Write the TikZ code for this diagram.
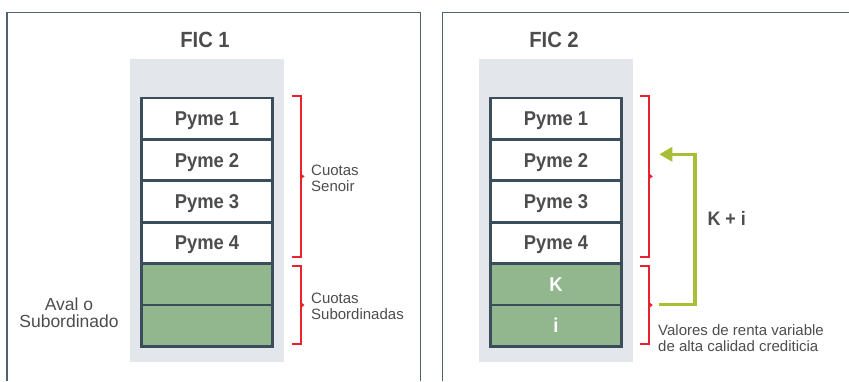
\documentclass[tikz,border=0pt]{standalone}
\usepackage{fontspec}
\setmainfont{Liberation Sans}
\newfontfamily\titlefont[FakeStretch=0.92]{Liberation Sans}
\usetikzlibrary{arrows.meta}

\definecolor{framecol}{HTML}{4E6272}
\definecolor{panelbg}{HTML}{E3E6EA}
\definecolor{rowline}{HTML}{3B4D5A}
\definecolor{subgreen}{HTML}{92B78E}
\definecolor{bracketred}{HTML}{E8232B}
\definecolor{flowgreen}{HTML}{A6BF35}
\definecolor{ink}{HTML}{4D4D4D}

\tikzset{
  panelframe/.style={draw=framecol, line width=1.2pt},
  stackbg/.style={fill=panelbg, minimum width=153.7pt, minimum height=303pt, inner sep=0pt},
  row/.style={draw=rowline, fill=white, line width=2.7pt, minimum width=131.3pt,
              minimum height=41.4pt, inner sep=0pt, text=ink,
              text height=14pt, text depth=0pt,
              font=\titlefont\fontsize{20}{22}\selectfont\bfseries},
  subrow/.style={row, fill=subgreen, text=white},
  title/.style={text=ink, font=\titlefont\fontsize{22}{24}\selectfont\bfseries, inner sep=0pt},
  note/.style={text=ink, align=left, inner sep=0pt, font=\fontsize{15}{15.5}\selectfont},
  bracket/.style={draw=bracketred, line width=2pt},
  nub/.style={fill=bracketred},
  flow/.style={draw=flowgreen, line width=3.5pt, -{Triangle[length=13pt,width=14pt]}},
}

% Brace-like red bracket with a small pointer in the middle
\newcommand{\redbracket}[3]{% x, top y, bottom y
  \draw[bracket] ({#1-8.7},#2) -- (#1,#2) -- (#1,#3) -- ({#1-8.7},#3);
  \fill[nub] (#1,{(#2+#3)/2-3}) -- ({#1+3.8},{(#2+#3)/2}) -- (#1,{(#2+#3)/2+3}) -- cycle;
}

\begin{document}
\begin{tikzpicture}[x=1pt,y=-1pt]
\useasboundingbox (0,0) rectangle (849,381);

% panel frames (open at the bottom / right)
\draw[panelframe] (7,381) -- (7,12.7) -- (420.7,12.7) -- (420.7,381);
\draw[panelframe] (442.7,381) -- (442.7,12.7) -- (849,12.7);

% ---------- FIC 1 ----------
\node[title, anchor=base] (t1) at (205,47.7) {FIC 1};
\node[stackbg] (bg1) at (206.85,210.8) {};
\node[row] (a1) at (207,118.7) {Pyme 1};
\node[row] (a2) at (207,160.1) {Pyme 2};
\node[row] (a3) at (207,201.5) {Pyme 3};
\node[row] (a4) at (207,242.9) {Pyme 4};
\node[subrow] (a5) at (207,284.3) {};
\node[subrow] (a6) at (207,325.7) {};

\redbracket{300.7}{95.7}{257}
\redbracket{300.7}{266}{344}

% multi-line labels: the base anchor sits on the last line
\node[note, anchor=base west] (senior1) at (311,191) {Cuotas\\Senoir};
\node[note, anchor=base west] (sub1) at (311,319.3) {Cuotas\\Subordinadas};
\node[note, align=center, anchor=base, font=\fontsize{17.5}{17.5}\selectfont] (aval) at (69,327.5) {Aval o\\Subordinado};

% ---------- FIC 2 ----------
\node[title, anchor=base] (t2) at (554,47.7) {FIC 2};
\node[stackbg] (bg2) at (555.85,210.8) {};
\node[row] (b1) at (556,118.7) {Pyme 1};
\node[row] (b2) at (556,160.1) {Pyme 2};
\node[row] (b3) at (556,201.5) {Pyme 3};
\node[row] (b4) at (556,242.9) {Pyme 4};
\node[subrow] (b5) at (556,284.3) {K};
\node[subrow] (b6) at (556,325.7) {i};

\redbracket{649}{95.7}{257}
\redbracket{649}{266}{344}

% return flow from the subordinated tranche to the senior tranche
\coordinate (flowstart) at (658.7,304.3);
\coordinate (flowend) at (659.3,154.3);
\draw[flow] (flowstart) -- (695,304.3) -- (695,154.3) -- (flowend);
\node[text=ink, inner sep=0pt, anchor=base, font=\titlefont\fontsize{19.5}{21}\selectfont\bfseries] (ki) at (726.7,225.7) {K + i};

\node[note, anchor=base west] (valores) at (658,351) {Valores de renta variable\\de alta calidad crediticia};
\end{tikzpicture}
\end{document}
